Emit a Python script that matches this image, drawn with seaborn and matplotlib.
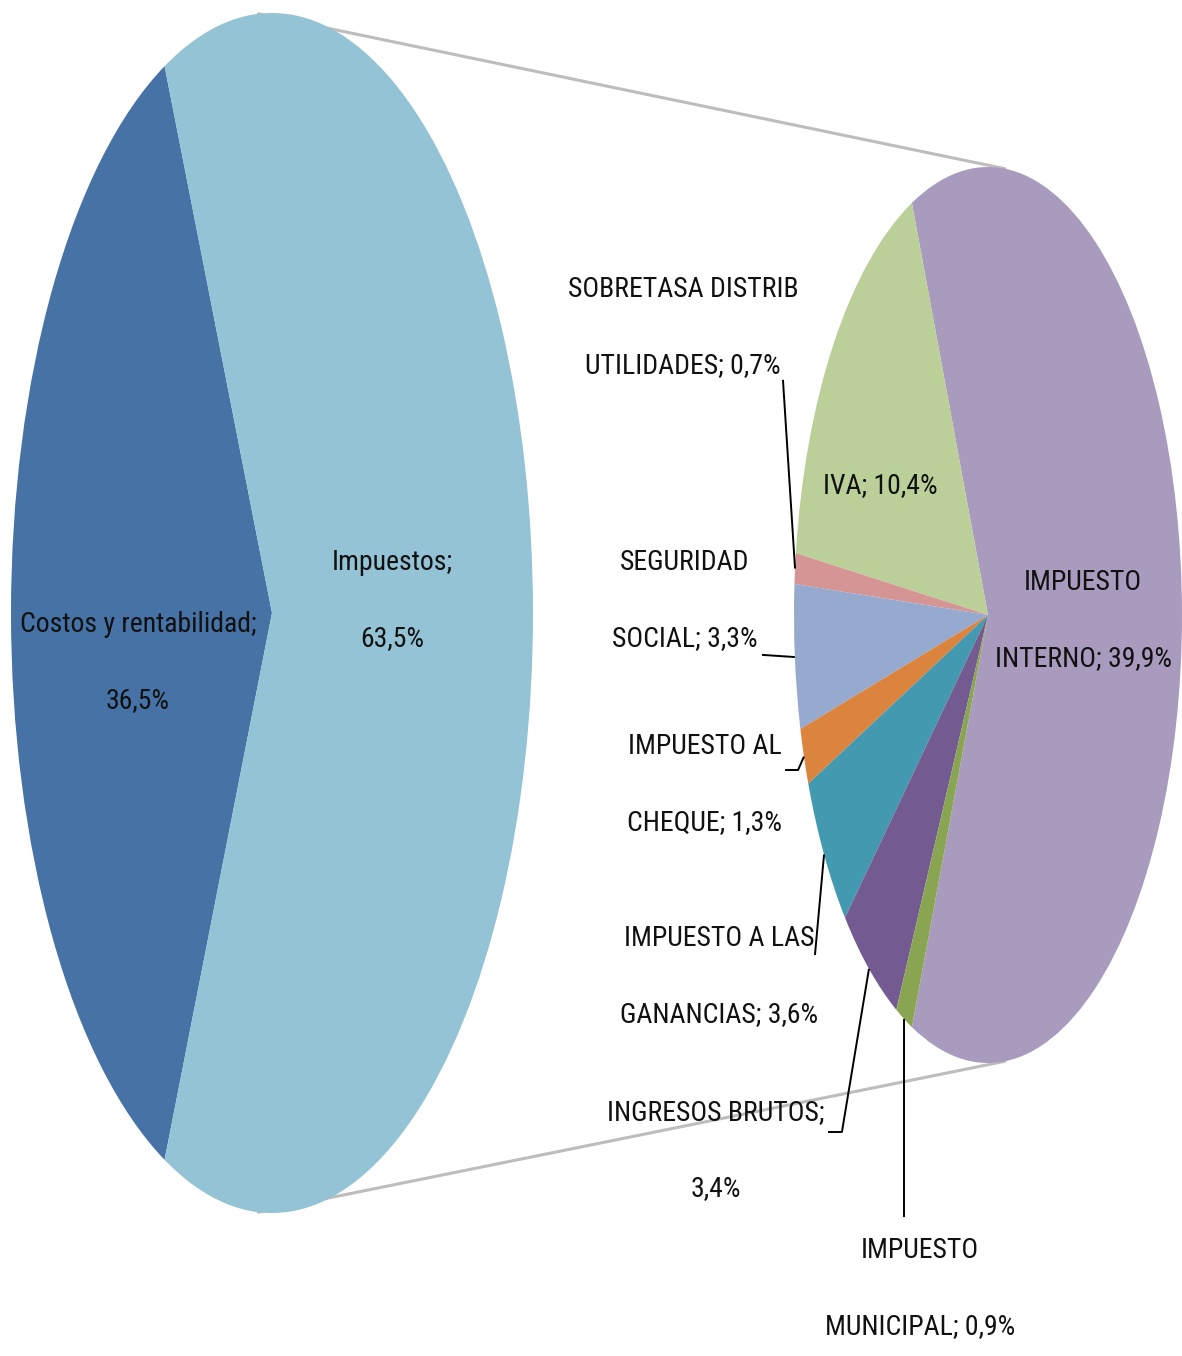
import numpy as np
import matplotlib
matplotlib.use("Agg")
import matplotlib.pyplot as plt
from matplotlib import font_manager as fm
from matplotlib.font_manager import FontProperties
from matplotlib.patches import ConnectionPatch
import seaborn as sns

# Share of the final price: costs vs. taxes
main_names = ["Costos y rentabilidad", "Impuestos"]
main_values = [36.5, 63.5]
main_colors = ["#4672A6", "#93C3D5"]
main_value_newline = [True, True]

# Breakdown of the tax share
tax_names = ["IMPUESTO\nINTERNO", "IVA", "SOBRETASA DISTRIB\nUTILIDADES",
             "SEGURIDAD\nSOCIAL", "IMPUESTO AL\nCHEQUE",
             "IMPUESTO A LAS\nGANANCIAS", "INGRESOS BRUTOS",
             "IMPUESTO\nMUNICIPAL"]
tax_values = [39.9, 10.4, 0.7, 3.3, 1.3, 3.6, 3.4, 0.9]
tax_colors = ["#A99BBD", "#BBCF98", "#D59594", "#95AACE",
              "#DB843D", "#4399AF", "#735A91", "#8AA552"]
tax_value_newline = [False, False, False, False, False, False, True, False]


def fmt(name, value, newline):
    pct = f"{value:.1f}%".replace(".", ",")
    return f"{name};" + ("\n" if newline else " ") + pct


def pick_font():
    """Prefer a narrow sans face for the labels."""
    entries = fm.fontManager.ttflist
    names = {f.name for f in entries}
    for fam in ["Liberation Sans Narrow", "Roboto Condensed",
                "Open Sans Condensed", "Arial Narrow", "Noto Sans Condensed"]:
        if fam in names:
            return fam, "normal"
    narrow = ("condensed", "semi-condensed", "extra-condensed",
              "ultra-condensed")
    for fam in ["DejaVu Sans", "Noto Sans", "Roboto", "Open Sans"]:
        if any(f.name == fam and str(f.stretch) in narrow for f in entries):
            return fam, "condensed"
    for fam in ["Roboto", "Liberation Sans", "DejaVu Sans"]:
        if fam in names:
            return fam, "normal"
    return "DejaVu Sans", "normal"


sns.set_theme(style="white")
FAMILY, STRETCH = pick_font()
plt.rcParams["font.family"] = [FAMILY, "DejaVu Sans"]
plt.rcParams["font.stretch"] = STRETCH

TXT = "#111111"
DPI = 100
LINE_STEP_PX = 76

fig = plt.figure(figsize=(11.82, 13.56), dpi=DPI)
fig.patch.set_facecolor("white")

# Size the label font so that a reference line spans about 217 px
renderer = fig.canvas.get_renderer()
probe = fig.text(0, 0, "INGRESOS BRUTOS;", fontsize=20)
probe_w = probe.get_window_extent(renderer).width
probe.remove()
FS = 20 * 217 / probe_w

# Line spacing: each new baseline sits ascent*linespacing + descent below
fp = FontProperties(family=[FAMILY, "DejaVu Sans"], stretch=STRETCH, size=FS)
_, lp_h, lp_d = renderer.get_text_width_height_descent("lp", fp, ismath=False)
LS = (LINE_STEP_PX - lp_d) / (lp_h - lp_d)

ax_main = fig.add_axes([11 / 1182, 1 - 1213 / 1356, 522 / 1182, 1200 / 1356])
ax_tax = fig.add_axes([794 / 1182, 1 - 1063 / 1356, 388 / 1182, 896 / 1356])

# Main pie: the tax slice faces the breakdown pie on the right
main_start = 180 - main_values[0] / sum(main_values) * 360 / 2
ax_main.pie(main_values, colors=main_colors, startangle=main_start,
            counterclock=True, wedgeprops=dict(linewidth=0))

# Breakdown pie: the small items are grouped around the left side
tax_total = sum(tax_values)
big_span = tax_values[0] / tax_total * 360
rest_span = 360 - big_span
tax_start = 180 - rest_span / 2 - big_span
wedges, _ = ax_tax.pie(tax_values, colors=tax_colors, startangle=tax_start,
                       counterclock=True, wedgeprops=dict(linewidth=0))

for ax in (ax_main, ax_tax):
    ax.set_xlim(-1, 1)
    ax.set_ylim(-1, 1)
    ax.set_aspect("auto")
    ax.axis("off")

# Labels of the main pie
main_label_pos = [(-0.513, -0.082), (0.46, 0.02)]
for name, val, nl, (x, y) in zip(main_names, main_values, main_value_newline,
                                 main_label_pos):
    ax_main.text(x, y, fmt(name, val, nl), ha="center", va="center",
                 fontsize=FS, linespacing=LS, color=TXT)

# Labels of the breakdown pie (text position, leader points from the text side)
tax_label_pos = [(0.49, -0.013), (-0.557, 0.29), (-1.572, 0.641),
                 (-1.562, 0.033), (-1.459, -0.379), (-1.387, -0.806),
                 (-1.402, -1.196), (-0.351, -1.504)]
tax_leaders = [None, None,
               [(-1.057, 0.525)],
               [(-1.165, -0.089)],
               [(-1.046, -0.346), (-0.979, -0.346)],
               [(-0.892, -0.759)],
               [(-0.825, -1.154), (-0.753, -1.154)],
               [(-0.433, -1.344)]]

for w, name, val, nl, (x, y), lead in zip(wedges, tax_names, tax_values,
                                          tax_value_newline, tax_label_pos,
                                          tax_leaders):
    ax_tax.text(x, y, fmt(name, val, nl), ha="center", va="center",
                fontsize=FS, linespacing=LS, color=TXT, clip_on=False)
    if lead:
        mid = np.deg2rad((w.theta1 + w.theta2) / 2)
        pts = lead + [(np.cos(mid), np.sin(mid))]
        xs, ys = zip(*pts)
        ax_tax.plot(xs, ys, color="black", lw=1.4, clip_on=False,
                    solid_capstyle="butt")

# Connector lines between the two pies
for a_main, a_tax in ((93, 85), (267, 275)):
    p1 = (np.cos(np.deg2rad(a_main)), np.sin(np.deg2rad(a_main)))
    p2 = (np.cos(np.deg2rad(a_tax)), np.sin(np.deg2rad(a_tax)))
    con = ConnectionPatch(xyA=p1, coordsA=ax_main.transData,
                          xyB=p2, coordsB=ax_tax.transData,
                          color="#BDBDBD", lw=2.2, zorder=0)
    fig.add_artist(con)

fig.savefig("out.png", dpi=DPI, facecolor="white")
